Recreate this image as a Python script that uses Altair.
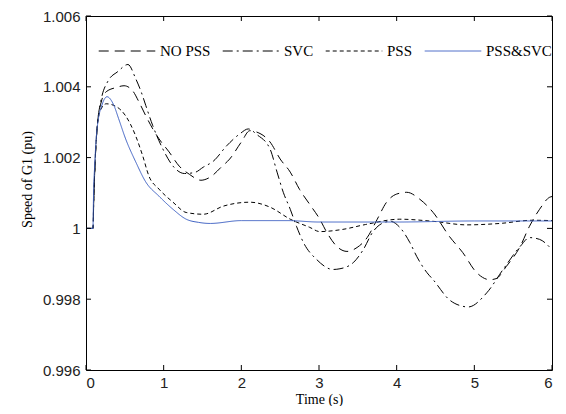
import altair as alt
import pandas as pd

# ---- data ----
series_names = ["NO PSS", "SVC", "PSS", "PSS&SVC"]

nopss_t = [0, 0.09, 0.1, 0.12, 0.15, 0.2, 0.26, 0.39, 0.49, 0.6, 0.68, 0.77, 0.86, 0.94, 1.07, 1.2,
           1.33, 1.48, 1.6, 1.75, 1.85, 2.0, 2.11, 2.2, 2.37, 2.5, 2.63, 2.75, 2.88, 3.01, 3.1, 3.23,
           3.36, 3.49, 3.62, 3.75, 3.87, 4.0, 4.13, 4.3, 4.47, 4.68, 4.85, 5.03, 5.2, 5.28, 5.41, 5.59,
           5.71, 5.84, 5.97, 6.0]
nopss_v = [1, 1, 1.0008, 1.002, 1.003, 1.0036, 1.00386, 1.00398, 1.00403, 1.00389, 1.00358, 1.00318,
           1.00281, 1.00253, 1.00216, 1.00176, 1.00153, 1.00136, 1.00145, 1.00175, 1.00196, 1.00244,
           1.00276, 1.00272, 1.00244, 1.00196, 1.00159, 1.0011, 1.00068, 1.00026, 0.99989, 0.99949,
           0.99935, 0.99946, 0.99974, 1.00026, 1.00074, 1.00097, 1.00102, 1.00082, 1.00045, 0.99977,
           0.99932, 0.99875, 0.99855, 0.99858, 0.99892, 0.99949, 1.00006, 1.00054, 1.00088, 1.0009]

svc_t = [0, 0.09, 0.1, 0.12, 0.15, 0.19, 0.28, 0.41, 0.54, 0.64, 0.71, 0.77, 0.86, 0.99, 1.12, 1.27,
         1.4, 1.51, 1.64, 1.81, 1.98, 2.09, 2.2, 2.37, 2.46, 2.54, 2.63, 2.71, 2.8, 2.97, 3.18, 3.27,
         3.44, 3.57, 3.69, 3.82, 3.92, 4.04, 4.17, 4.26, 4.39, 4.47, 4.68, 4.85, 4.92, 5.16, 5.37,
         5.59, 5.71, 5.84, 6.0]
svc_v = [1, 1, 1.0008, 1.002, 1.003, 1.00358, 1.00415, 1.00443, 1.00463, 1.00423, 1.00386, 1.00347,
         1.0029, 1.00224, 1.00176, 1.00155, 1.00158, 1.00173, 1.0019, 1.00233, 1.00267, 1.00281,
         1.00265, 1.00224, 1.00159, 1.00102, 1.00054, 1.00006, 0.9996, 0.99912, 0.99884, 0.99886,
         0.99903, 0.9994, 0.99989, 1.00015, 1.0002, 1.00003, 0.9996, 0.9992, 0.99875, 0.99855,
         0.99798, 0.9978, 0.99778, 0.99818, 0.99884, 0.99949, 0.99974, 0.99969, 0.9994]

pss_t = [0, 0.09, 0.1, 0.12, 0.15, 0.2, 0.26, 0.39, 0.51, 0.64, 0.73, 0.81, 0.94, 1.12, 1.29, 1.51,
         1.77, 2.11, 2.37, 2.63, 2.88, 3.01, 3.3, 3.6, 4.04, 4.47, 4.9, 5.33, 5.75, 6.0]
pss_v = [1, 1, 1.0008, 1.002, 1.003, 1.0034, 1.00352, 1.00344, 1.00318, 1.00261, 1.00205, 1.00148,
         1.00111, 1.00074, 1.00045, 1.0004, 1.00063, 1.00074, 1.0006, 1.00026, 1.00003, 0.99991,
         0.99997, 1.00011, 1.00026, 1.0002, 1.0001, 1.00014, 1.00023, 1.00022]

both_t = [0, 0.09, 0.095, 0.1, 0.11, 0.13, 0.16, 0.2, 0.27, 0.36, 0.42, 0.51, 0.64, 0.77, 0.94, 1.12,
          1.29, 1.45, 1.6, 2.0, 2.6, 3.0, 4.0, 5.0, 6.0]
both_v = [1, 1, 1.0007, 1.0012, 1.0017, 1.0025, 1.0031, 1.00345, 1.00372, 1.00347, 1.0031, 1.00253,
          1.00188, 1.00131, 1.00091, 1.00054, 1.00026, 1.00017, 1.00014, 1.00022, 1.00022, 1.00018,
          1.00018, 1.00021, 1.00021]

x_ticks = [0, 1, 2, 3, 4, 5, 6]
y_ticks = [0.996, 0.998, 1.0, 1.002, 1.004, 1.006]

# ---- build table ----
frames = []
for name, ts, vs in zip(series_names, [nopss_t, svc_t, pss_t, both_t], [nopss_v, svc_v, pss_v, both_v]):
    frames.append(pd.DataFrame({"t": ts, "v": vs, "series": name}))
df = pd.DataFrame(pd.concat(frames, ignore_index=True))

W, H = 466, 354
xs = alt.Scale(domain=[0, 6], nice=False, zero=False)
ys = alt.Scale(domain=[0.996, 1.006], nice=False, zero=False)

x_axis = alt.Axis(values=x_ticks, format="d", ticks=False, domain=False, grid=False,
                  labelPadding=5, titlePadding=2)
y_axis = alt.Axis(values=y_ticks, format=".3~f", ticks=False, domain=False, grid=False,
                  labelPadding=6, titlePadding=8, titleY=163)

legend = alt.Legend(
    orient="none", legendX=12, legendY=6, direction="horizontal", title=None,
    symbolType="stroke", symbolSize=3200, symbolStrokeWidth=1,
    labelFont="Liberation Serif", labelFontSize=15, labelColor="black",
    columnPadding=9, labelOffset=4, padding=0,
)

lines = alt.Chart(df).mark_line(strokeWidth=1, interpolate="monotone").encode(
    x=alt.X("t:Q", scale=xs, title="Time (s)", axis=x_axis),
    y=alt.Y("v:Q", scale=ys, title="Speed of G1 (pu)", axis=y_axis),
    color=alt.Color("series:N", scale=alt.Scale(domain=series_names,
                                                 range=["black", "black", "black", "#3f62c4"]),
                    legend=legend, sort=series_names),
    strokeDash=alt.StrokeDash("series:N", scale=alt.Scale(domain=series_names,
                                                           range=[[10, 6], [10, 4, 2, 4], [4, 3], [1, 0]]),
                              legend=legend, sort=series_names),
    order=alt.Order("t:Q"),
)

xt = pd.DataFrame({"t": x_ticks})
yt = pd.DataFrame({"v": y_ticks})

tick_b = alt.Chart(xt).mark_rule(color="black", strokeWidth=1).encode(
    x=alt.X("t:Q", scale=xs, title="Time (s)", axis=x_axis), y=alt.value(H), y2=alt.value(H - 5))
tick_t = alt.Chart(xt).mark_rule(color="black", strokeWidth=1).encode(
    x=alt.X("t:Q", scale=xs, title="Time (s)", axis=x_axis), y=alt.value(0), y2=alt.value(5))
tick_l = alt.Chart(yt).mark_rule(color="black", strokeWidth=1).encode(
    y=alt.Y("v:Q", scale=ys, title="Speed of G1 (pu)", axis=y_axis), x=alt.value(0), x2=alt.value(5))
tick_r = alt.Chart(yt).mark_rule(color="black", strokeWidth=1).encode(
    y=alt.Y("v:Q", scale=ys, title="Speed of G1 (pu)", axis=y_axis), x=alt.value(W - 5), x2=alt.value(W))

chart = alt.layer(lines, tick_b, tick_t, tick_l, tick_r).properties(
    width=W, height=H,
    autosize=alt.AutoSizeParams(type="none"),
    padding={"left": 78, "top": 8, "right": 6, "bottom": 36},
    background="white",
).configure_view(
    stroke="black", strokeWidth=1,
).configure_axis(
    labelFont="Liberation Sans", labelFontSize=15, labelColor="#222",
    titleFont="Liberation Serif", titleFontSize=14, titleFontWeight="normal", titleColor="black",
)

chart.save("out.html", embed_options={"renderer": "svg", "actions": False})
